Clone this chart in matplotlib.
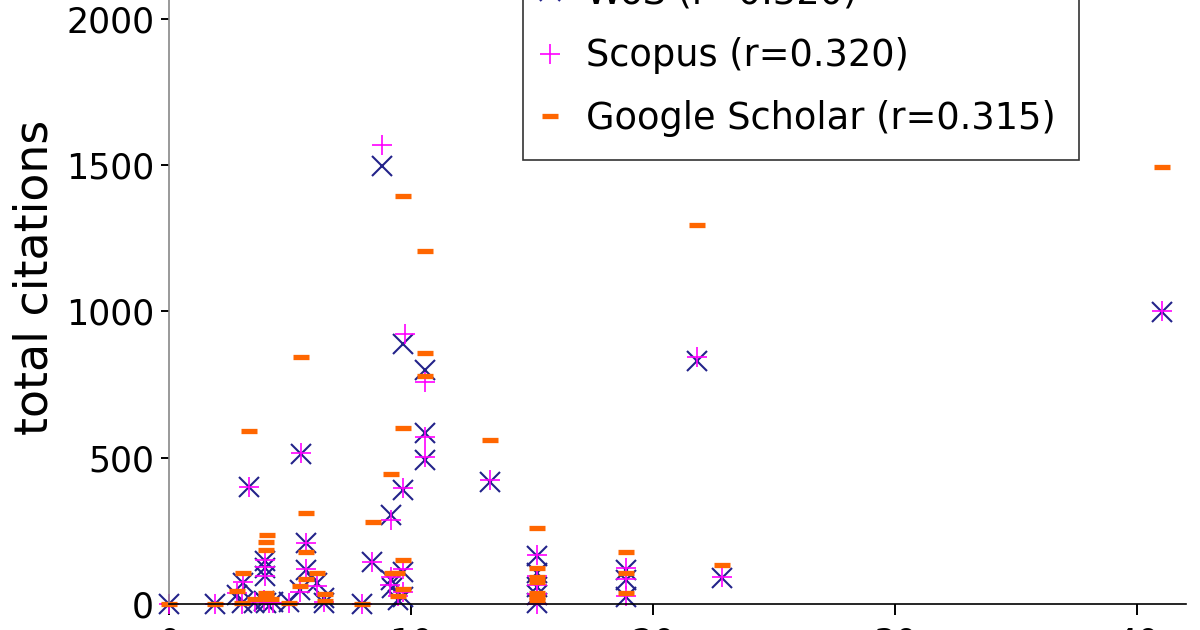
import matplotlib
matplotlib.use("Agg")
import matplotlib.pyplot as plt

# values (x, total citations), one list per database
wos_x = [0, 1.88, 2.8, 3.0, 3.06, 3.3, 3.5, 3.96, 3.96, 3.96, 3.9, 4.0, 4.3, 4.95,
         5.4, 5.44, 5.63, 5.63, 6.08, 6.4, 6.4, 7.95, 8.39, 8.8, 9.14, 9.14, 9.2,
         9.46, 9.67, 9.67, 9.67, 9.67, 10.56, 10.56, 10.56, 13.24, 15.2, 15.2, 15.2,
         15.2, 15.2, 18.87, 18.87, 18.87, 21.79, 22.84, 41.04]
wos_y = [0, 0, 31, 2, 71, 399, 5, 148, 122, 96, 10, 3, 8, 6,
         48, 513, 207, 116, 71, 19, 5, 0, 143, 1497, 304, 82, 54,
         14, 390, 889, 110, 25, 800, 583, 492, 418, 165, 105, 59,
         30, 3, 116, 82, 23, 832, 88, 999]

scopus_x = [0, 1.88, 2.78, 3.0, 3.06, 3.3, 3.54, 3.96, 3.96, 3.96, 3.9, 4.1, 4.3, 4.95,
            5.4, 5.44, 5.63, 5.63, 6.08, 6.4, 7.95, 8.39, 8.8, 9.14, 9.14, 9.1,
            9.46, 9.67, 9.74, 9.67, 9.67, 10.56, 10.56, 10.56, 13.24, 15.2, 15.2, 15.2,
            15.2, 15.2, 18.87, 18.87, 18.87, 21.79, 22.84, 41.04]
scopus_y = [0, 0, 38, 0, 75, 401, 8, 150, 125, 96, 12, 5, 3, 3,
            40, 515, 210, 120, 60, 8, 0, 145, 1569, 287, 93, 65,
            28, 395, 922, 118, 40, 760, 572, 504, 425, 168, 95, 65,
            35, 0, 123, 85, 28, 843, 92, 1001]

gs_x = [0, 1.88, 2.81, 3.0, 3.06, 3.3, 3.54, 4.02, 4.0, 4.0, 4.0, 4.0, 4.2, 4.95,
        5.4, 5.44, 5.63, 5.63, 5.63, 6.08, 6.43, 6.43, 7.95, 8.4, 9.14, 9.19, 9.4,
        9.46, 9.67, 9.67, 9.67, 9.67, 10.56, 10.56, 10.56, 13.24, 15.2, 15.2, 15.2,
        15.2, 15.2, 15.2, 15.2, 18.87, 18.87, 18.87, 21.79, 22.84, 41.04]
gs_y = [0, 0, 45, 2, 107, 592, 16, 237, 211, 185, 36, 25, 17, 2,
        61, 843, 310, 179, 84, 107, 33, 10, 0, 281, 444, 105, 107,
        28, 600, 1396, 150, 51, 1207, 857, 779, 561, 259, 122, 93,
        74, 39, 25, 14, 177, 107, 39, 1297, 133, 1495]

labels = ["WoS (r=0.320)", "Scopus (r=0.320)", "Google Scholar (r=0.315)"]
y_ticks = [0, 500, 1000, 1500, 2000]
x_ticks = [0, 10, 20, 30, 40]

fig = plt.figure(figsize=(12, 6.3), dpi=100)
# the original figure is cropped at the top and bottom, so the axes run past the edge
ax = fig.add_axes([0.1412, 0.0413, 0.8468, 1.0214])

ax.plot(wos_x, wos_y, linestyle="none", marker="x", ms=14, mew=1.5,
        color="#22228a", clip_on=False, label=labels[0])
ax.plot(scopus_x, scopus_y, linestyle="none", marker="+", ms=14, mew=1.2,
        color="#ff00ff", clip_on=False, label=labels[1])
ax.plot(gs_x, gs_y, linestyle="none", marker="_", ms=11, mew=3.8,
        color="#ff6600", clip_on=False, label=labels[2])

ax.set_xlim(0, 42)
ax.set_ylim(0, 2200)
ax.set_xticks(x_ticks)
ax.set_yticks(y_ticks)
ax.tick_params(axis="both", direction="out", labelsize=25, width=1.4)
ax.tick_params(axis="y", length=6, pad=5)
ax.tick_params(axis="x", length=8, pad=8)

ax.spines["top"].set_visible(False)
ax.spines["right"].set_visible(False)
ax.spines["left"].set_color("#888888")
ax.spines["left"].set_linewidth(1.2)
ax.spines["bottom"].set_linewidth(1.2)

ax.set_ylabel("total citations", fontsize=33)
ax.yaxis.set_label_coords(-0.11, (604 - 277) / 630 / 1.0214)

leg = ax.legend(loc="lower left", bbox_to_anchor=(523 / 1200, 1 - 160 / 630),
                bbox_transform=fig.transFigure, fontsize=26.5, frameon=True,
                fancybox=False, framealpha=1, edgecolor="#333333",
                handlelength=0.25, handletextpad=0.85, labelspacing=0.7,
                borderpad=0.62, borderaxespad=0)
leg.get_frame().set_linewidth(1.2)

fig.savefig("out.png", dpi=100)
